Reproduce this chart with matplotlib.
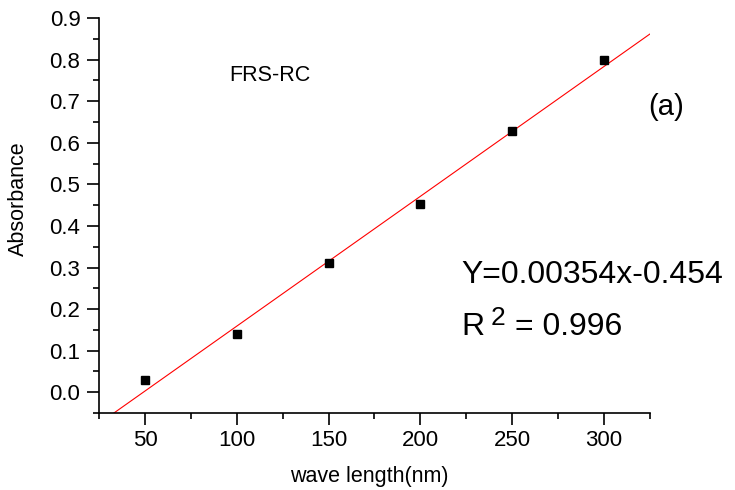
import numpy as np
import matplotlib
matplotlib.use("Agg")
import matplotlib.pyplot as plt
from matplotlib.ticker import MultipleLocator

plt.rcParams['font.family'] = ['Liberation Sans', 'DejaVu Sans']

# Calibration data
wavelength = [50, 100, 150, 200, 250, 300]
absorbance = [0.029, 0.139, 0.311, 0.453, 0.629, 0.799]

x_ticks = [50, 100, 150, 200, 250, 300]
y_ticks = [0.0, 0.1, 0.2, 0.3, 0.4, 0.5, 0.6, 0.7, 0.8, 0.9]

sample_label = "FRS-RC"
panel_label = "(a)"
equation_text = "Y=0.00354x-0.454"
r2_value = "0.996"

fig = plt.figure(figsize=(7.35, 4.9), dpi=100)
ax = fig.add_axes([0.135, 0.157, 0.749, 0.806])

# Linear least-squares fit across the full x range
slope, intercept = np.polyfit(wavelength, absorbance, 1)
xfit = np.array([25, 325])
ax.plot(xfit, slope * xfit + intercept, color='red', lw=0.8, zorder=2)

ax.plot(wavelength, absorbance, ls='none', marker='s', ms=6,
        color='black', zorder=3)

ax.set_xlim(25, 325)
ax.set_ylim(-0.05, 0.9)
ax.set_xticks(x_ticks)
ax.set_yticks(y_ticks)
ax.set_yticklabels([f"{v:.1f}" for v in y_ticks])
ax.xaxis.set_minor_locator(MultipleLocator(25))
ax.yaxis.set_minor_locator(MultipleLocator(0.05))

for side in ('top', 'right'):
    ax.spines[side].set_visible(False)
for side in ('left', 'bottom'):
    ax.spines[side].set_linewidth(1.2)

ax.tick_params(which='major', direction='out', length=8.5, width=1.2,
               labelsize=16)
ax.tick_params(axis='y', which='major', pad=5)
ax.tick_params(axis='x', which='major', pad=4)
ax.tick_params(which='minor', direction='out', length=4.5, width=1.2)

ax.set_xlabel("wave length(nm)", fontsize=15.5, va='top')
ax.xaxis.set_label_coords(0.49, -0.135)
ax.set_ylabel("Absorbance", fontsize=15.5)
ax.yaxis.set_label_coords(-0.128, 0.542)

ax.text(0.31, 0.856, sample_label, transform=ax.transAxes,
        fontsize=15.5, ha='center', va='center')
ax.text(1.029, 0.775, panel_label, transform=ax.transAxes,
        fontsize=21, ha='center', va='center', clip_on=False)

fig.text(0.628, 0.422, equation_text, fontsize=23, ha='left', va='baseline')
fig.text(0.628, 0.316, "R", fontsize=23, ha='left', va='baseline')
fig.text(0.667, 0.337, "2", fontsize=19, ha='left', va='baseline')
fig.text(0.701, 0.316, "= " + r2_value, fontsize=23, ha='left', va='baseline')

fig.savefig("out.png", dpi=100)
